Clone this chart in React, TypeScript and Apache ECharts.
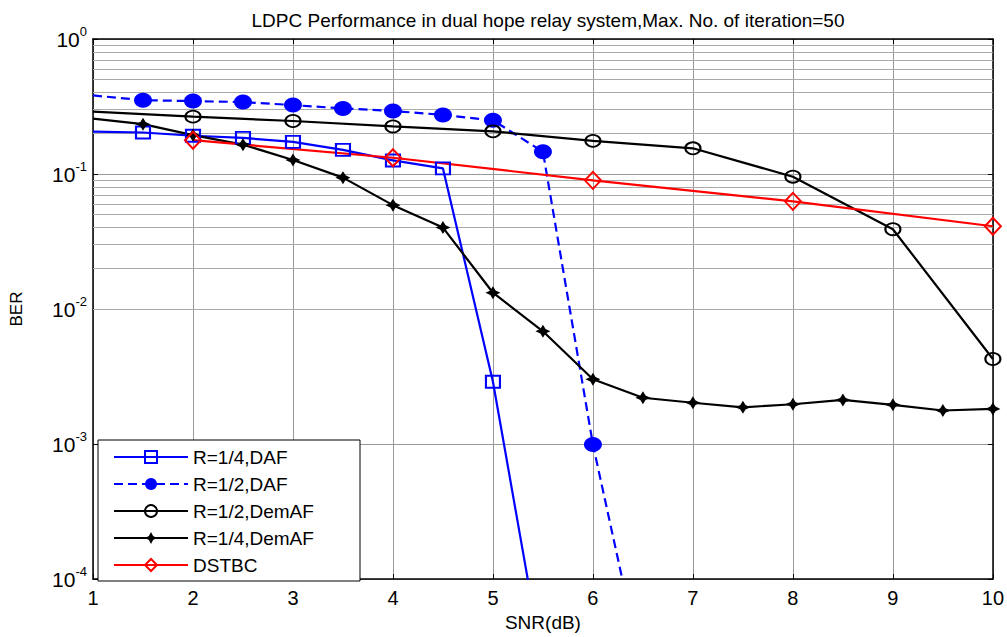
import { useEffect, useRef } from 'react';
import * as echarts from 'echarts';

// ---- data ----
const snrDafQuarter = [1, 1.5, 2, 2.5, 3, 3.5, 4, 4.5, 5, 5.5];
const berDafQuarter = [0.206, 0.203, 0.192, 0.185, 0.173, 0.151, 0.126, 0.11, 0.00289, 0.000023];

const snrDafHalf = [1, 1.5, 2, 2.5, 3, 3.5, 4, 4.5, 5, 5.5, 6, 6.5];
const berDafHalf = [0.382, 0.352, 0.347, 0.341, 0.324, 0.306, 0.293, 0.274, 0.25, 0.146, 0.00099, 0.00002];

const snrDemHalf = [1, 2, 3, 4, 5, 6, 7, 8, 9, 10];
const berDemHalf = [0.29, 0.266, 0.247, 0.225, 0.207, 0.176, 0.155, 0.0955, 0.039, 0.00426];

const snrDemQuarter = [1, 1.5, 2, 2.5, 3, 3.5, 4, 4.5, 5, 5.5, 6, 6.5, 7, 7.5, 8, 8.5, 9, 9.5, 10];
const berDemQuarter = [0.257, 0.234, 0.194, 0.165, 0.127, 0.094, 0.0588, 0.0401, 0.0132, 0.00684, 0.00302, 0.0022, 0.00202, 0.00187, 0.00197, 0.00212, 0.00195, 0.00177, 0.00182];

const snrDstbc = [2, 4, 6, 8, 10];
const berDstbc = [0.178, 0.132, 0.0897, 0.0627, 0.041];

const seriesNames = ['R=1/4,DAF', 'R=1/2,DAF', 'R=1/2,DemAF', 'R=1/4,DemAF', 'DSTBC'];
const xTickValues = [1, 2, 3, 4, 5, 6, 7, 8, 9, 10];
const yDecades = [-4, -3, -2, -1, 0];
const minorMantissas = [2, 3, 4, 5, 6, 7, 8, 9];

const TITLE = 'LDPC Performance in dual hope relay system,Max. No. of iteration=50';
const FONT = '"Liberation Sans", Arial, Helvetica, sans-serif';
const BLUE = '#0000ff';
const RED = '#ff0000';
const BLACK = '#000000';
const CLEAR = 'rgba(0,0,0,0)';
const STAR = 'path://M0,-10 L3.5,-3.5 L10,0 L3.5,3.5 L0,10 L-3.5,3.5 L-10,0 L-3.5,-3.5 Z';

function pairs(xs: number[], ys: number[], hideFirst: boolean) {
  return xs.map((x, i) =>
    hideFirst && i === 0 ? { value: [x, ys[i]], symbol: 'none' } : { value: [x, ys[i]] }
  );
}

export default function App() {
  const ref = useRef<HTMLDivElement>(null);

  useEffect(() => {
    if (!ref.current) return;
    const chart = echarts.init(ref.current, undefined, { renderer: 'svg' });

    const minorGrid: number[] = [];
    yDecades.slice(0, -1).forEach((e) => {
      minorMantissas.forEach((m) => minorGrid.push(m * Math.pow(10, e)));
    });

    const yMin = Math.pow(10, yDecades[0]);
    const yMax = Math.pow(10, yDecades[yDecades.length - 1]);

    const option: any = {
      animation: false,
      backgroundColor: '#ffffff',
      title: {
        text: TITLE,
        left: 543,
        textAlign: 'center',
        top: 6,
        textStyle: { fontFamily: FONT, fontSize: 19, fontWeight: 'normal', color: '#000' },
      },
      grid: { left: 93, right: 13, top: 39, bottom: 53 },
      legend: {
        orient: 'vertical',
        left: 98,
        top: 440,
        data: seriesNames,
        backgroundColor: '#ffffff',
        borderColor: '#000000',
        borderWidth: 1,
        borderRadius: 0,
        padding: [7, 17, 6, 15],
        itemWidth: 74,
        itemHeight: 15,
        itemGap: 7,
        selectedMode: false,
        textStyle: { fontFamily: FONT, fontSize: 19, color: '#000', width: 150, lineHeight: 20 },
      },
      xAxis: [
        {
          type: 'value',
          min: 1,
          max: 10,
          interval: 1,
          name: 'SNR(dB)',
          nameLocation: 'middle',
          nameGap: 34,
          nameTextStyle: { fontFamily: FONT, fontSize: 19, color: '#000' },
          axisLine: { show: true, onZero: false, lineStyle: { color: '#000', width: 1.5 } },
          axisTick: { show: true, inside: true, length: 5, lineStyle: { color: '#000' } },
          axisLabel: {
            fontFamily: FONT,
            fontSize: 20,
            color: '#000',
            margin: 9,
            formatter: (v: number) => (xTickValues.includes(v) ? String(v) : ''),
          },
          splitLine: { show: true, lineStyle: { color: '#999', width: 1 } },
        },
        {
          type: 'value',
          min: 1,
          max: 10,
          interval: 1,
          position: 'top',
          axisLine: { show: true, onZero: false, lineStyle: { color: '#000', width: 1.5 } },
          axisTick: { show: true, inside: true, length: 5, lineStyle: { color: '#000' } },
          axisLabel: { show: false },
          splitLine: { show: false },
        },
      ],
      yAxis: [
        {
          type: 'log',
          logBase: 10,
          min: yMin,
          max: yMax,
          name: 'BER',
          nameLocation: 'middle',
          nameGap: 68,
          nameRotate: 90,
          nameTextStyle: { fontFamily: FONT, fontSize: 17, color: '#000' },
          axisLine: { show: true, onZero: false, lineStyle: { color: '#000', width: 1.5 } },
          axisTick: { show: true, inside: true, length: 5, lineStyle: { color: '#000' } },
          axisLabel: {
            margin: 6,
            formatter: (v: number) => {
              const e = Math.round(Math.log10(v));
              return `{b|10}{s|${e}}`;
            },
            rich: {
              b: { fontFamily: FONT, fontSize: 21, color: '#000' },
              s: { fontFamily: FONT, fontSize: 13, color: '#000', padding: [0, 0, 15, 0] },
            },
          },
          splitLine: { show: true, lineStyle: { color: '#999', width: 1 } },
        },
        {
          type: 'log',
          logBase: 10,
          min: yMin,
          max: yMax,
          position: 'right',
          axisLine: { show: true, onZero: false, lineStyle: { color: '#000', width: 1.5 } },
          axisTick: { show: true, inside: true, length: 5, lineStyle: { color: '#000' } },
          axisLabel: { show: false },
          splitLine: { show: false },
        },
      ],
      series: [
        {
          name: '__grid',
          type: 'line',
          data: [],
          silent: true,
          z: 1,
          markLine: {
            silent: true,
            z: 1,
            symbol: ['none', 'none'],
            label: { show: false },
            lineStyle: { color: '#aaa', width: 1, type: 'solid' },
            emphasis: { disabled: true },
            data: minorGrid.map((v) => ({ yAxis: v })),
          },
        },
        {
          name: seriesNames[0],
          type: 'line',
          z: 3,
          data: pairs(snrDafQuarter, berDafQuarter, true),
          symbol: 'rect',
          symbolSize: [14, 12],
          lineStyle: { color: BLUE, width: 2.2 },
          itemStyle: { color: CLEAR, borderColor: BLUE, borderWidth: 2 },
        },
        {
          name: seriesNames[1],
          type: 'line',
          z: 3,
          data: pairs(snrDafHalf, berDafHalf, true),
          symbol: 'circle',
          symbolSize: [18, 15],
          lineStyle: { color: BLUE, width: 2.2, type: [9, 5] },
          itemStyle: { color: BLUE, borderWidth: 0 },
        },
        {
          name: seriesNames[2],
          type: 'line',
          z: 3,
          data: pairs(snrDemHalf, berDemHalf, true),
          symbol: 'circle',
          symbolSize: [15, 12],
          lineStyle: { color: BLACK, width: 2.2 },
          itemStyle: { color: CLEAR, borderColor: BLACK, borderWidth: 2 },
        },
        {
          name: seriesNames[3],
          type: 'line',
          z: 3,
          data: pairs(snrDemQuarter, berDemQuarter, true),
          symbol: STAR,
          symbolSize: [15, 13],
          lineStyle: { color: BLACK, width: 2.2 },
          itemStyle: { color: BLACK, borderWidth: 0 },
        },
        {
          name: seriesNames[4],
          type: 'line',
          z: 3,
          data: pairs(snrDstbc, berDstbc, false),
          symbol: 'diamond',
          symbolSize: [16, 17],
          lineStyle: { color: RED, width: 2.2 },
          itemStyle: { color: CLEAR, borderColor: RED, borderWidth: 2 },
        },
      ],
    };

    chart.setOption(option);
    return () => chart.dispose();
  }, []);

  return (
    <div
      ref={ref}
      style={{ position: 'fixed', left: 0, top: 0, width: 1007, height: 637, background: '#fff' }}
    />
  );
}
